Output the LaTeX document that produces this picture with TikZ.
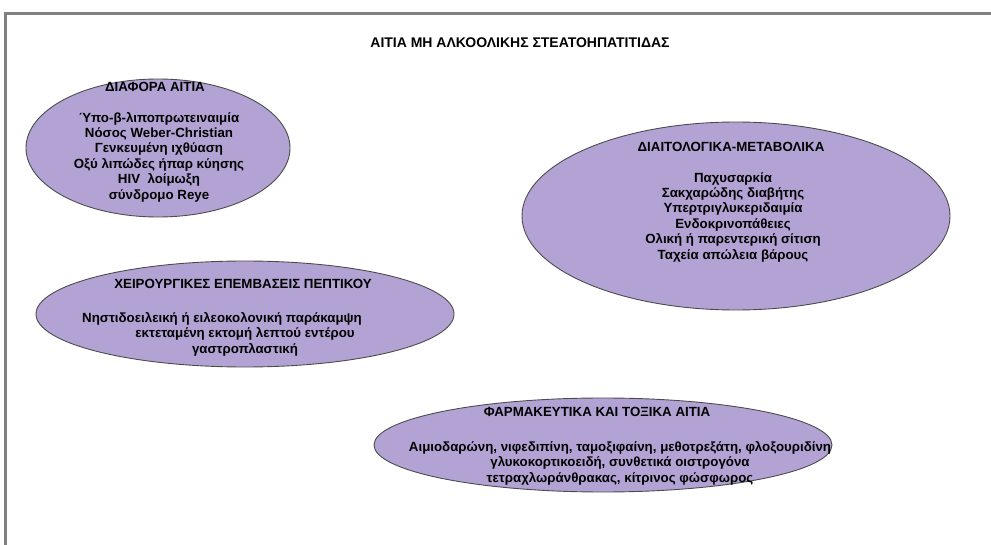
\documentclass[tikz,border=0pt]{standalone}
\usepackage{fontspec}
\setmainfont{Liberation Sans}
\usepackage{xcolor}
\usetikzlibrary{positioning,shapes.geometric}

\definecolor{lavender}{RGB}{178,163,212}
\definecolor{framegray}{RGB}{128,128,128}

\begin{document}
\begin{tikzpicture}[
  x=1pt, y=-1pt,
  blob/.style={ellipse, draw=black!70, line width=0.9pt, fill=lavender, inner sep=0pt},
  head/.style={font=\fontsize{13.3}{15.4}\selectfont\bfseries, align=center},
  items/.style={font=\fontsize{13.3}{15.4}\selectfont\bfseries, align=center}
]
  \useasboundingbox (0,0) rectangle (991,545);

  % ── Frame ──
  \draw[framegray, line width=3pt] (5,545) -- (5,14) -- (991,14);

  % ── Title ──
  \node[head, font=\fontsize{14}{16}\selectfont\bfseries] (title) at (520,43)
    {ΑΙΤΙΑ ΜΗ ΑΛΚΟΟΛΙΚΗΣ ΣΤΕΑΤΟΗΠΑΤΙΤΙΔΑΣ};

  % ── Other causes ──
  \node[blob, minimum width=264pt, minimum height=138pt] (misc) at (158,148) {};
  \node[head] (misc-t) at (155,87) {ΔΙΑΦΟΡΑ ΑΙΤΙΑ};
  \node[items] (misc-l) at (159,157) {Ύπο-β-λιποπρωτειναιμία\\
    Νόσος Weber-Christian\\ Γενκευμένη ιχθύαση\\
    Οξύ λιπώδες ήπαρ κύησης\\ HIV~ λοίμωξη\\ σύνδρομο Reye};

  % ── Diet / metabolic ──
  \node[blob, minimum width=428pt, minimum height=188pt] (diet) at (736,216) {};
  \node[head] (diet-t) at (731,147) {ΔΙΑΙΤΟΛΟΓΙΚΑ-ΜΕΤΑΒΟΛΙΚΑ};
  \node[items] (diet-l) at (733,217) {Παχυσαρκία\\ Σακχαρώδης διαβήτης\\
    Υπερτριγλυκεριδαιμία\\ Ενδοκρινοπάθειες\\
    Ολική ή παρεντερική σίτιση\\ Ταχεία απώλεια βάρους};

  % ── Surgery ──
  \node[blob, minimum width=418pt, minimum height=106pt] (surg) at (245,314) {};
  \node[head] (surg-t) at (243,284) {ΧΕΙΡΟΥΡΓΙΚΕΣ ΕΠΕΜΒΑΣΕΙΣ ΠΕΠΤΙΚΟΥ};
  \node[items] (surg-l) at (245,334)
    {Νηστιδοειλεική ή ειλεοκολονική παράκαμψη\hspace*{46pt}\\
    εκτεταμένη εκτομή λεπτού εντέρου\\ γαστροπλαστική};

  % ── Drugs / toxins ──
  \node[blob, minimum width=458pt, minimum height=94pt] (drug) at (603,445) {};
  \node[head] (drug-t) at (597,412) {ΦΑΡΜΑΚΕΥΤΙΚΑ ΚΑΙ ΤΟΞΙΚΑ ΑΙΤΙΑ};
  \node[items] (drug-l) at (620,463)
    {Αιμιοδαρώνη, νιφεδιπίνη, ταμοξιφαίνη, μεθοτρεξάτη, φλοξουριδίνη\\
    γλυκοκορτικοειδή, συνθετικά οιστρογόνα\\
    τετραχλωράνθρακας, κίτρινος φώσφωρος};

\end{tikzpicture}
\end{document}
